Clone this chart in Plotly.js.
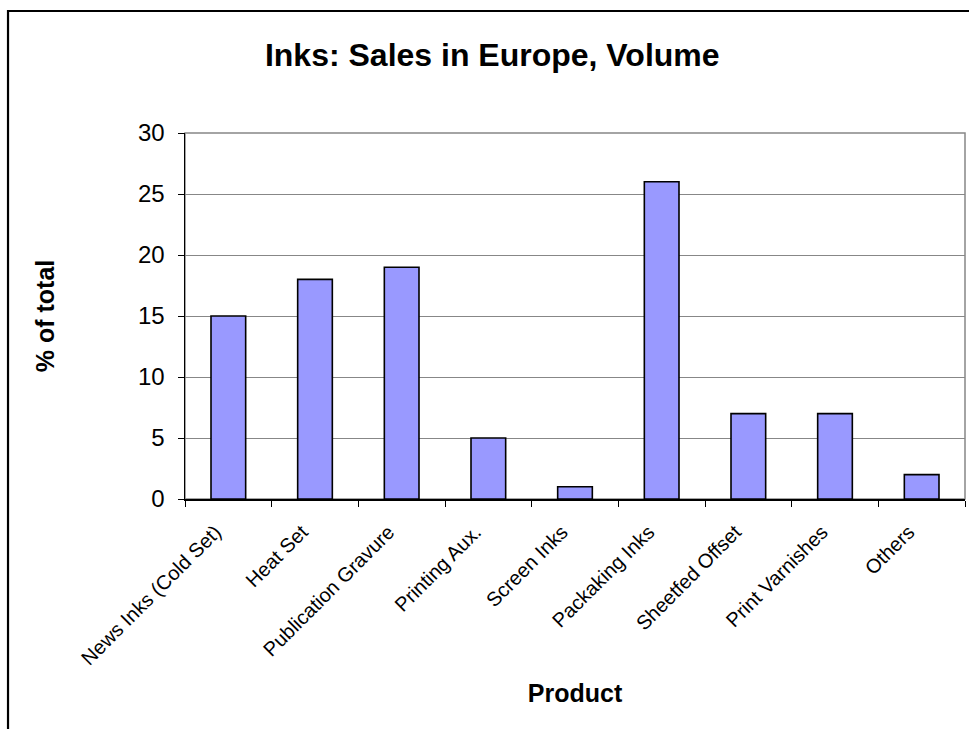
<!DOCTYPE html>
<html>
<head>
<meta charset="utf-8">
<script src="https://cdn.plot.ly/plotly-3.0.1.min.js"></script>
<style>
html,body{margin:0;padding:0;background:#fff;}
#chart{width:969px;height:729px;}
</style>
</head>
<body>
<div id="chart"></div>
<script>
const categories = ["News Inks (Cold Set)", "Heat Set", "Publication Gravure", "Printing Aux.", "Screen Inks", "Packaking Inks", "Sheetfed Offset", "Print Varnishes", "Others"];
const shareOfTotal = [15, 18, 19, 5, 1, 26, 7, 7, 2];
const yTickValues = [0, 5, 10, 15, 20, 25, 30];

const FONT = "Liberation Sans, Arial, sans-serif";

const trace = {
  type: "bar",
  x: categories,
  y: shareOfTotal,
  marker: { color: "#9999FF", line: { color: "#000000", width: 1.6 } },
  hoverinfo: "x+y"
};

const layout = {
  width: 969,
  height: 729,
  autosize: false,
  margin: { l: 185, r: 4, t: 133, b: 230, pad: 0 },
  paper_bgcolor: "#ffffff",
  plot_bgcolor: "#ffffff",
  font: { family: FONT, color: "#000000" },
  showlegend: false,
  bargap: 0.6,
  title: {
    text: "<b>Inks: Sales in Europe, Volume</b>",
    font: { family: FONT, size: 32, color: "#000000" },
    xref: "container", x: 0.508, xanchor: "center",
    yref: "container", y: 0.925, yanchor: "middle"
  },
  xaxis: {
    type: "category",
    tickson: "boundaries",
    ticks: "outside",
    ticklen: 6,
    tickwidth: 1,
    tickcolor: "#000000",
    tickangle: -45,
    ticklabelstandoff: 12,
    ticklabelshift: -13,
    tickfont: { family: FONT, size: 20, color: "#000000" },
    showline: true,
    linecolor: "#000000",
    linewidth: 1.5,
    showgrid: false,
    zeroline: false,
    automargin: false,
    title: {
      text: "<b>Product</b>",
      font: { family: FONT, size: 25, color: "#000000" },
      standoff: 16
    }
  },
  yaxis: {
    range: [0, 30],
    tickvals: yTickValues,
    ticktext: yTickValues.map(String),
    ticks: "outside",
    ticklen: 6,
    tickwidth: 1,
    tickcolor: "#000000",
    ticklabelstandoff: 8,
    tickfont: { family: FONT, size: 24, color: "#000000" },
    showline: true,
    linecolor: "#000000",
    linewidth: 1.5,
    showgrid: true,
    gridcolor: "#878787",
    gridwidth: 1,
    zeroline: false,
    automargin: false,
    title: {
      text: "<b>% of total</b>",
      font: { family: FONT, size: 25, color: "#000000" },
      standoff: 76
    }
  },
  shapes: [
    {
      type: "rect", xref: "paper", yref: "paper",
      x0: 0, x1: 1, y0: 0, y1: 1,
      line: { color: "#878787", width: 1.5 },
      fillcolor: "rgba(0,0,0,0)", layer: "below"
    },
    {
      type: "rect", xref: "paper", yref: "paper",
      x0: -0.2269, x1: 1.2, y0: -1, y1: 1.3333,
      line: { color: "#000000", width: 2.2 },
      fillcolor: "rgba(0,0,0,0)", layer: "above"
    }
  ]
};

Plotly.newPlot("chart", [trace], layout, { displayModeBar: false, staticPlot: true });
</script>
</body>
</html>
